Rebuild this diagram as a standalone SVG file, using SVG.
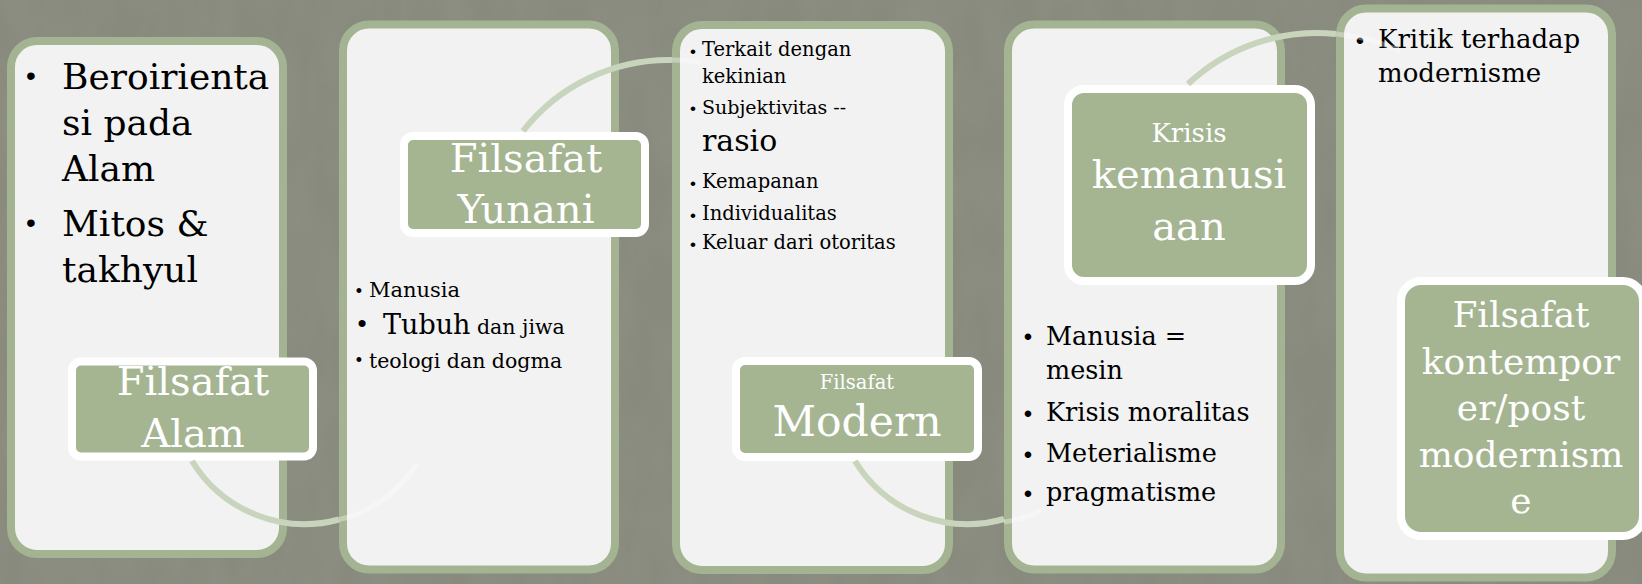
<svg xmlns="http://www.w3.org/2000/svg" width="1642" height="584" viewBox="0 0 1642 584">
<style>
.panel{fill:#f2f2f2;stroke:#a4b391;stroke-width:8}
.label{fill:#a5b592;stroke:#ffffff;stroke-width:8}
.t{font-family:"DejaVu Serif",serif;fill:#000000}
.w{font-family:"DejaVu Serif",serif;fill:#ffffff;text-anchor:middle}
.b{font-family:"Liberation Sans",sans-serif;fill:#000000;text-anchor:middle}
.arc{fill:none;stroke:#c9d4bd;stroke-width:6}
.faint{fill:none;stroke:#ffffff;stroke-width:5;stroke-opacity:0.35}
</style>
<defs>
<filter id="tex" x="0" y="0" width="100%" height="100%">
<feTurbulence type="fractalNoise" baseFrequency="0.03 0.012" numOctaves="3" seed="7"/>
<feColorMatrix type="matrix" values="0 0 0 0 0.55  0 0 0 0 0.56  0 0 0 0 0.5  0 0 0 0.3 -0.08"/>
</filter>
</defs>
<rect width="1642" height="584" fill="#878a7d"/>
<rect width="1642" height="584" filter="url(#tex)" opacity="0.45"/>

<g id="node1">
<rect class="panel" x="11" y="41" width="272" height="513" rx="26"/>
<text class="b" x="31" y="85" font-size="28">•</text>
<text class="t" x="62" y="89" font-size="36">Beroirienta</text>
<text class="t" x="62" y="135" font-size="36">si pada</text>
<text class="t" x="62" y="181" font-size="36">Alam</text>
<text class="b" x="31" y="232" font-size="28">•</text>
<text class="t" x="62" y="236" font-size="36">Mitos &amp;</text>
<text class="t" x="62" y="282" font-size="36">takhyul</text>
<rect class="label" x="72" y="361.5" width="241" height="95" rx="9"/>
<text class="w" x="193" y="395" font-size="40">Filsafat</text>
<text class="w" x="193" y="447" font-size="40">Alam</text>
</g>

<g id="node2">
<rect class="panel" x="343" y="24.5" width="272" height="545" rx="26"/>
<text class="b" x="359" y="297" font-size="18">•</text>
<text class="t" x="369" y="296.5" font-size="21">Manusia</text>
<text class="b" x="362" y="332" font-size="26">•</text>
<text class="t" x="383" y="334" font-size="27">Tubuh<tspan font-size="20.5"> dan jiwa</tspan></text>
<text class="b" x="359" y="366" font-size="18">•</text>
<text class="t" x="369" y="368" font-size="20.5">teologi dan dogma</text>
<rect class="label" x="404" y="136" width="241" height="97" rx="9"/>
<text class="w" x="526" y="172" font-size="40">Filsafat</text>
<text class="w" x="526" y="223" font-size="40">Yunani</text>
</g>

<g id="node3">
<rect class="panel" x="676" y="25" width="273" height="545" rx="26"/>
<text class="b" x="693" y="57" font-size="17">•</text>
<text class="t" x="702" y="56" font-size="19.5">Terkait dengan</text>
<text class="t" x="702" y="83" font-size="19.5">kekinian</text>
<text class="b" x="693" y="114" font-size="17">•</text>
<text class="t" x="702" y="113.5" font-size="19">Subjektivitas --</text>
<text class="t" x="702" y="151" font-size="30">rasio</text>
<text class="b" x="693" y="189" font-size="17">•</text>
<text class="t" x="702" y="188" font-size="19.5">Kemapanan</text>
<text class="b" x="693" y="221" font-size="17">•</text>
<text class="t" x="702" y="220" font-size="19.5">Individualitas</text>
<text class="b" x="693" y="250" font-size="17">•</text>
<text class="t" x="702" y="249" font-size="19.5">Keluar dari otoritas</text>
<rect class="label" x="736" y="361" width="242" height="96" rx="9"/>
<text class="w" x="857" y="389" font-size="19.5">Filsafat</text>
<text class="w" x="857" y="436" font-size="42.5">Modern</text>
</g>

<g id="node4">
<rect class="panel" x="1008" y="24.5" width="273" height="545" rx="26"/>
<rect class="label" x="1068" y="89" width="243" height="192" rx="16"/>
<text class="w" x="1189" y="141.5" font-size="26">Krisis</text>
<text class="w" x="1189" y="188" font-size="40">kemanusi</text>
<text class="w" x="1189" y="240" font-size="40">aan</text>
<text class="b" x="1028" y="345" font-size="24">•</text>
<text class="t" x="1046" y="344.5" font-size="25.5">Manusia =</text>
<text class="t" x="1046" y="379" font-size="25.5">mesin</text>
<text class="b" x="1028" y="421.5" font-size="24">•</text>
<text class="t" x="1046" y="421" font-size="25.5">Krisis moralitas</text>
<text class="b" x="1028" y="462.5" font-size="24">•</text>
<text class="t" x="1046" y="462" font-size="25.5">Meterialisme</text>
<text class="b" x="1028" y="501.5" font-size="24">•</text>
<text class="t" x="1046" y="501" font-size="25.5">pragmatisme</text>
</g>

<g id="node5">
<rect class="panel" x="1340" y="8.5" width="272" height="569" rx="26"/>
<text class="b" x="1360" y="48.5" font-size="24">•</text>
<text class="t" x="1378" y="48" font-size="26">Kritik terhadap</text>
<text class="t" x="1378" y="82" font-size="26">modernisme</text>
<rect class="label" x="1401" y="281" width="242" height="255" rx="20"/>
<text class="w" x="1521" y="327" font-size="36">Filsafat</text>
<text class="w" x="1521" y="373.5" font-size="36">kontempor</text>
<text class="w" x="1521" y="420" font-size="36">er/post</text>
<text class="w" x="1521" y="466.5" font-size="36">modernism</text>
<text class="w" x="1521" y="513" font-size="36">e</text>
</g>

<g id="connectors">
<path class="arc" d="M192,461 A132,132 0 0,0 339,519.5"/>
<path class="faint" d="M339,519.5 Q385,510 417,464"/>
<path class="arc" d="M523,131 A185,185 0 0,1 672,60"/>
<path class="faint" d="M672,60 A185,185 0 0,1 700,62"/>
<path class="arc" d="M855,461 A132,132 0 0,0 1004,519"/>
<path class="faint" d="M1004,522 Q1030,518 1040,510"/>
<path class="arc" d="M1188,84 A188,188 0 0,1 1336,34"/>
<path class="faint" d="M1336,34 A188,188 0 0,1 1400,51"/>
</g>
</svg>
